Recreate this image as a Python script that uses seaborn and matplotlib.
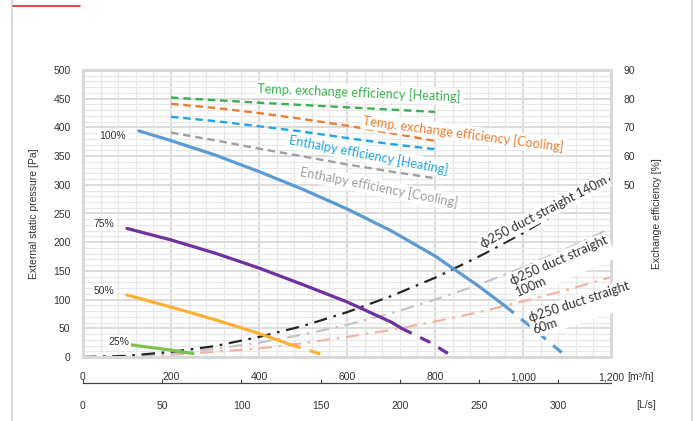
import matplotlib
matplotlib.use("Agg")
import matplotlib.pyplot as plt
from matplotlib.lines import Line2D
from matplotlib.ticker import FuncFormatter, MultipleLocator
import pandas as pd
import seaborn as sns

# ---- fan performance curves: airflow [m3/h] vs external static pressure [Pa]
q100_solid = [127, 200, 300, 400, 500, 600, 700, 800, 900, 959]
p100_solid = [394, 377, 352, 323, 292, 258, 220, 176, 123, 89]
q100_dash = [959, 1030, 1100]
p100_dash = [89, 45, 0]

q75_solid = [100, 200, 300, 400, 500, 600, 700, 724]
p75_solid = [224, 204, 181, 155, 126, 96, 61, 50]
q75_dash = [724, 790, 842]
p75_dash = [50, 25, 0]

q50_solid = [100, 200, 300, 400, 470]
p50_solid = [108, 87, 65, 41, 22]
q50_dash = [470, 520, 560]
p50_dash = [22, 10, 0]

q25_solid = [100, 150, 200, 250]
p25_solid = [22, 17, 12, 6]

# ---- duct resistance curves (phi250 straight duct)
q_duct = [0, 100, 200, 300, 400, 500, 600, 700, 800, 900, 1000, 1100, 1200]
p_duct140 = [0, 2, 9, 19, 35, 54, 78, 106, 138, 175, 216, 261, 311]
p_duct100 = [0, 1.6, 6, 14, 25, 39, 56, 76, 100, 126, 156, 189, 224]
p_duct60 = [0, 1, 4, 9, 15, 24, 35, 47, 62, 78, 97, 117, 139]

# ---- exchange efficiency [%]
q_eff = [200, 300, 400, 500, 600, 700, 800]
eff_temp_heat = [80.4, 79.5, 78.6, 77.8, 77.0, 76.2, 75.4]
eff_temp_cool = [78.2, 76.8, 75.0, 72.9, 70.6, 68.0, 65.3]
eff_enth_heat = [73.7, 72.2, 70.4, 68.5, 66.3, 64.2, 62.4]
eff_enth_cool = [68.2, 65.5, 62.6, 59.9, 57.1, 54.6, 52.3]

# ---- axis tick values
flow_ticks = [0, 200, 400, 600, 800, 1000, 1200]
ls_ticks = [0, 50, 100, 150, 200, 250, 300]
pa_ticks = [0, 50, 100, 150, 200, 250, 300, 350, 400, 450, 500]
eff_ticks = [50, 60, 70, 80, 90]

sns.set_theme(style="white")
plt.rcParams["font.family"] = ["Liberation Sans", "DejaVu Sans"]
LABEL_FONT = ["Lato", "DejaVu Sans"]

W, H = 699, 421
fig = plt.figure(figsize=(W / 100, H / 100), dpi=100)
fig.patch.set_facecolor("white")

left, right, top, bottom = 83, 611, 70, 357
ax = fig.add_axes([left / W, 1 - bottom / H, (right - left) / W, (bottom - top) / H])
ax.set_xlim(0, 1200)
ax.set_ylim(0, 500)
ax.set_facecolor("white")

# grid: fine every 40 m3/h and 10 Pa, heavier every 200 m3/h and 50 Pa
ax.xaxis.set_major_locator(MultipleLocator(200))
ax.xaxis.set_minor_locator(MultipleLocator(40))
ax.yaxis.set_major_locator(MultipleLocator(50))
ax.yaxis.set_minor_locator(MultipleLocator(10))
ax.grid(which="minor", color="#e8e8e8", lw=0.9)
ax.grid(which="major", color="#dcdcdc", lw=1.4)
ax.set_axisbelow(True)
for s in ax.spines.values():
    s.set_color("#d9d9d9")
    s.set_linewidth(2.2)

ax.set_xticks(flow_ticks)
ax.set_yticks(pa_ticks)
ax.xaxis.set_major_formatter(FuncFormatter(lambda v, p: f"{int(v):,}"))
ax.tick_params(axis="both", which="both", length=0, labelsize=7.5, labelcolor="#333333")
ax.tick_params(axis="x", pad=11)
ax.tick_params(axis="y", pad=9)

def draw(axis, xs, ys, color, lw, ls):
    df = pd.DataFrame({"x": xs, "y": ys})
    sns.lineplot(data=df, x="x", y="y", ax=axis, color=color, lw=lw,
                 linestyle=ls, estimator=None, sort=False, legend=False)

# duct resistance lines
draw(ax, q_duct, p_duct60, "#f6b3a3", 1.6, (0, (6, 3, 1.2, 3)))
draw(ax, q_duct, p_duct100, "#c4c4c4", 1.6, (0, (6, 3, 1.2, 3)))
draw(ax, q_duct, p_duct140, "#262626", 1.6, (0, (6, 3, 1.2, 3)))

# fan curves
blue, purple, orange, green = "#5b9bd5", "#7030a0", "#fbb134", "#7cc24e"
draw(ax, q100_solid, p100_solid, blue, 2.3, "-")
draw(ax, q100_dash, p100_dash, blue, 2.3, (0, (3.5, 3)))
draw(ax, q75_solid, p75_solid, purple, 2.3, "-")
draw(ax, q75_dash, p75_dash, purple, 2.3, (0, (3.5, 3)))
draw(ax, q50_solid, p50_solid, orange, 2.3, "-")
draw(ax, q50_dash, p50_dash, orange, 2.3, (0, (3.5, 3)))
draw(ax, q25_solid, p25_solid, green, 2.3, "-")
ax.set_xlabel("")
ax.set_ylabel("External static pressure [Pa]", fontsize=7.5, color="#333333", labelpad=10)

# efficiency axis on the right
ax2 = ax.twinx()
ax2.set_ylim(-10, 90)
ax2.set_yticks(eff_ticks)
ax2.tick_params(axis="y", length=0, labelsize=7.5, labelcolor="#333333", pad=9)
for s in ax2.spines.values():
    s.set_visible(False)
c_th, c_tc, c_eh, c_ec = "#3bb04f", "#ed7d31", "#1ea6e6", "#a0a0a0"
draw(ax2, q_eff, eff_temp_heat, c_th, 1.7, (0, (3.2, 2)))
draw(ax2, q_eff, eff_temp_cool, c_tc, 1.7, (0, (3.2, 2)))
draw(ax2, q_eff, eff_enth_heat, c_eh, 1.7, (0, (3.2, 2)))
draw(ax2, q_eff, eff_enth_cool, c_ec, 1.7, (0, (3.2, 2)))
ax2.set_xlabel("")
ax2.set_ylabel("Exchange efficiency [%]", fontsize=7.5, color="#333333", labelpad=12)

box = dict(boxstyle="square,pad=0.15", fc="white", ec="none")
T = ax.transData

# percentage labels
for q, p, s in [(68, 385, "100%"), (47, 232, "75%"), (47, 115, "50%"), (82, 27, "25%")]:
    ax2.text(q, p, s, transform=T, fontsize=7.5, color="#333333",
             ha="center", va="center", bbox=box)

# efficiency labels
for q, p, s, c, r in [
    (628, 460, "Temp. exchange efficiency [Heating]", c_th, -2.3),
    (865, 389, "Temp. exchange efficiency [Cooling]", c_tc, -7.5),
    (648, 353, "Enthalpy efficiency [Heating]", c_eh, -10.8),
    (673, 295, "Enthalpy efficiency [Cooling]", c_ec, -11.2),
]:
    ax2.text(q, p, s, transform=T, fontsize=9.2, color=c, family=LABEL_FONT,
             rotation=r, rotation_mode="anchor", ha="center", va="center", bbox=box)

# duct labels
for q, p, s, r in [
    (1048, 252, "\u03d5250 duct straight 140m", 27.5),
    (1087, 158, "\u03d5250 duct straight\n100m", 23.6),
    (1133, 85, "\u03d5250 duct straight\n60m", 18.2),
]:
    ax2.text(q, p, s, transform=T, fontsize=9.2, color="#333333", family=LABEL_FONT,
             rotation=r, rotation_mode="anchor", ha="center", va="center",
             multialignment="left", linespacing=1.05, bbox=box)

# airflow in L/s on a separate scale below
sec = ax.secondary_xaxis(-0.09, functions=(lambda q: q / 3.6, lambda l: l * 3.6))
sec.set_xticks(ls_ticks)
sec.spines["bottom"].set_color("#444444")
sec.spines["bottom"].set_linewidth(0.9)
sec.tick_params(axis="x", direction="in", length=3, width=0.8, color="#444444",
                labelsize=7.5, labelcolor="#333333", pad=13)

fig.text(627 / W, 1 - 377 / H, "[m\u00b3/h]", fontsize=7.5, color="#333333", va="center", ha="left")
fig.text(646 / W, 1 - 405 / H, "[L/s]", fontsize=7.5, color="#333333", va="center", ha="center")

# page frame
fig.add_artist(Line2D([12 / W, 12 / W], [0, 1], transform=fig.transFigure, color="#dcdcdc", lw=1.6))
fig.add_artist(Line2D([692 / W, 692 / W], [0, 1], transform=fig.transFigure, color="#dcdcdc", lw=1.6))
fig.add_artist(Line2D([13 / W, 80 / W], [1 - 6 / H, 1 - 6 / H], transform=fig.transFigure, color="#e8202a", lw=1.2))

fig.savefig("out.png", dpi=100, facecolor="white")
